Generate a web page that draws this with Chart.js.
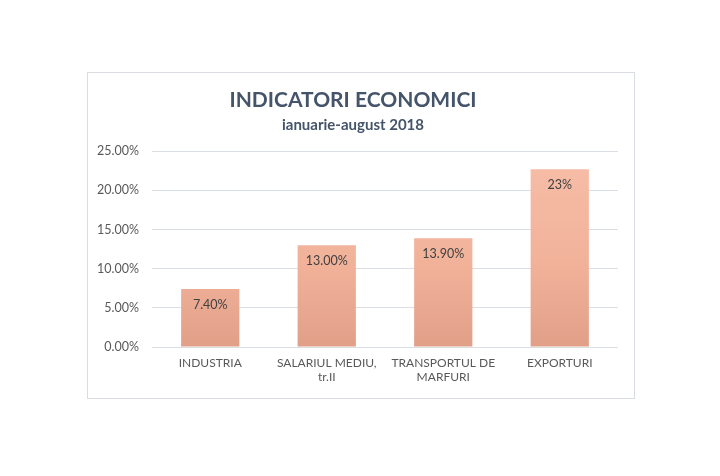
<!DOCTYPE html>
<html>
<head>
<meta charset="utf-8">
<script src="https://cdn.jsdelivr.net/npm/chart.js@4.4.0/dist/chart.umd.min.js"></script>
<style>
  html, body { margin: 0; padding: 0; background: #fff; }
  body { width: 720px; height: 476px; position: relative; overflow: hidden; }
  .chart-box {
    position: absolute; left: 87px; top: 72px;
    width: 546px; height: 325px;
    border: 1px solid #d9dce2; background: #fff;
  }
</style>
</head>
<body>
<div class="chart-box"><canvas id="indicatori" width="546" height="325"></canvas></div>
<script>
var categories = [["INDUSTRIA"], ["SALARIUL MEDIU,", "tr.II"], ["TRANSPORTUL DE", "MARFURI"], ["EXPORTURI"]];
var values = [7.4, 13.0, 13.9, 22.7];
var valueLabels = ["7.40%", "13.00%", "13.90%", "23%"];
var yTicks = [0, 5, 10, 15, 20, 25];

var fontFamily = "Lato, 'Open Sans', sans-serif";

// labels inside the top of each bar, the way Excel puts them
var barLabels = {
    id: "barLabels",
    afterDatasetsDraw: function(chart) {
        var ctx = chart.ctx;
        var meta = chart.getDatasetMeta(0);
        ctx.save();
        ctx.font = "12.5px " + fontFamily;
        ctx.fillStyle = "#404040";
        ctx.textAlign = "center";
        ctx.textBaseline = "middle";
        meta.data.forEach(function(bar, i) {
            ctx.fillText(valueLabels[i], bar.x, bar.y + 16);
        });
        ctx.restore();
    }
};

var ctx = document.getElementById("indicatori").getContext("2d");

function barGradient(context) {
    var area = context.chart.chartArea;
    if (!area) return "#f2b49b";
    var g = context.chart.ctx.createLinearGradient(0, area.top, 0, area.bottom);
    g.addColorStop(0, "#f7bea8");
    g.addColorStop(0.6, "#f1b199");
    g.addColorStop(1, "#e19f88");
    return g;
}

new Chart(ctx, {
    type: "bar",
    data: {
        labels: categories,
        datasets: [{
            data: values,
            backgroundColor: barGradient,
            borderWidth: 0,
            categoryPercentage: 1,
            barPercentage: 0.5
        }]
    },
    options: {
        responsive: false,
        animation: false,
        layout: { padding: { left: 0, right: 16, top: 0, bottom: 0 } },
        plugins: {
            legend: { display: false },
            tooltip: { enabled: false },
            title: {
                display: true,
                text: "INDICATORI ECONOMICI",
                color: "#44546a",
                font: { family: fontFamily, size: 21, weight: "bold" },
                padding: { top: 15, bottom: 3 }
            },
            subtitle: {
                display: true,
                text: "ianuarie-august 2018",
                color: "#44546a",
                font: { family: fontFamily, size: 15, weight: "bold" },
                padding: { top: 0, bottom: 17 }
            }
        },
        scales: {
            x: {
                grid: { display: false, drawTicks: false },
                border: { display: false },
                ticks: {
                    color: "#595959",
                    font: { family: fontFamily, size: 12 },
                    padding: 9,
                    maxRotation: 0,
                    autoSkip: false
                },
                afterFit: function(scale) { scale.height = 51; }
            },
            y: {
                min: 0,
                max: 25,
                afterBuildTicks: function(scale) {
                    scale.ticks = yTicks.map(function(v) { return { value: v }; });
                },
                grid: { color: "#dadee5", lineWidth: 1, drawTicks: false },
                border: { display: false },
                ticks: {
                    color: "#595959",
                    font: { family: fontFamily, size: 12.5 },
                    padding: 13,
                    callback: function(v) { return v.toFixed(2) + "%"; }
                },
                afterFit: function(scale) { scale.width = 64; }
            }
        }
    },
    plugins: [barLabels]
});
</script>
</body>
</html>
